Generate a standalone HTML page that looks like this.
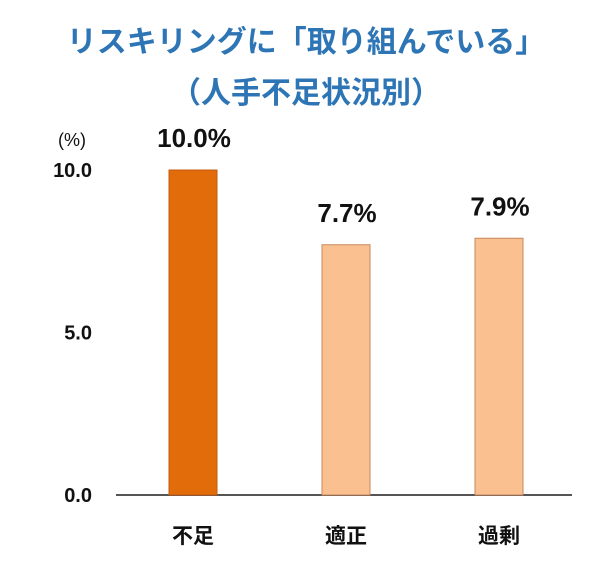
<!DOCTYPE html>
<html><head><meta charset="utf-8"><style>
body{margin:0;background:#fff;width:600px;height:564px;overflow:hidden}
svg text{font-family:"Liberation Sans","Noto Sans CJK JP",sans-serif}
</style></head><body>
<svg width="600" height="564">
<text x="306" y="52" text-anchor="middle" font-size="30" font-weight="bold" fill="#2e75b6">リスキリングに「取り組んでいる」</text>
<text x="306" y="103" text-anchor="middle" font-size="30" font-weight="bold" fill="#2e75b6">（人手不足状況別）</text>
<text x="72" y="146" text-anchor="middle" font-size="18" fill="#111">(%)</text>
<g id="yt"></g>
<line x1="116" y1="495" x2="572" y2="495" stroke="#555" stroke-width="2"/>
<g id="bars"></g>
</svg>
<script>
const categories=["不足","適正","過剰"];
const values=[10.0,7.7,7.9];
const valueLabels=["10.0%","7.7%","7.9%"];
const tickValues=[0,5,10];
const tickLabels=["0.0","5.0","10.0"];
const fills=["#e36c0a","#fac090","#fac090"];
const NS="http://www.w3.org/2000/svg";
const y=v=>495-v*32.5;
const x=i=>193+i*153;
const bw=48;
const yt=document.getElementById('yt'),bars=document.getElementById('bars');
tickValues.forEach((v,i)=>{
 const t=document.createElementNS(NS,'text');
 
 
 t.setAttribute('x',92);t.setAttribute('y',y(v)+7);t.setAttribute('text-anchor','end');
 t.setAttribute('font-size','20');t.setAttribute('font-weight','bold');t.setAttribute('fill','#111');t.textContent=tickLabels[i];
 yt.appendChild(t);
});
values.forEach((v,i)=>{
 const r=document.createElementNS(NS,'rect');
 
 
 r.setAttribute('x',x(i)-bw/2);r.setAttribute('y',y(v));r.setAttribute('width',bw);r.setAttribute('height',495-y(v));
 r.setAttribute('fill',fills[i]);r.setAttribute('stroke',i===0?'#c55a11':'#c8875a');r.setAttribute('stroke-width','1');
 bars.appendChild(r);
 const t=document.createElementNS(NS,'text');
 
 
 t.setAttribute('x',x(i)+1);t.setAttribute('y',y(v)-23);t.setAttribute('text-anchor','middle');
 t.setAttribute('font-size','26');t.setAttribute('font-weight','bold');t.setAttribute('fill','#111');t.textContent=valueLabels[i];
 bars.appendChild(t);
 const c=document.createElementNS(NS,'text');
 
 
 c.setAttribute('x',x(i));c.setAttribute('y',543);c.setAttribute('text-anchor','middle');
 c.setAttribute('font-size','21');c.setAttribute('font-weight','bold');c.setAttribute('fill','#111');c.textContent=categories[i];
 bars.appendChild(c);
});
</script>
</body></html>
